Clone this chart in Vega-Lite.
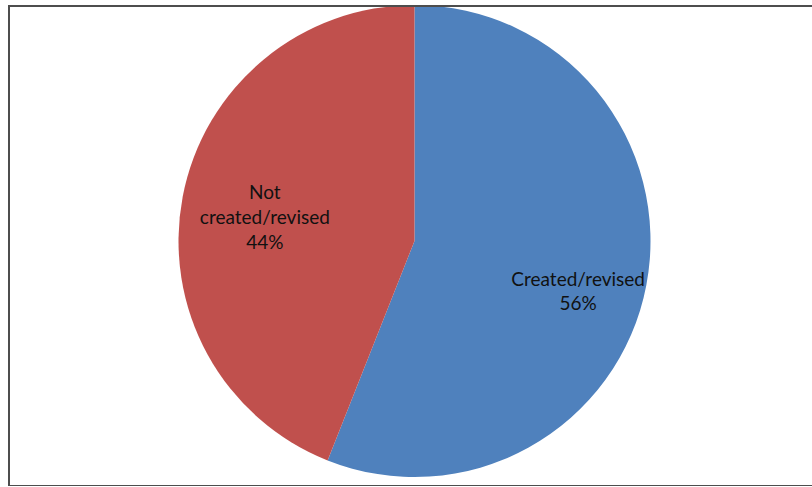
{
  "$schema": "https://vega.github.io/schema/vega-lite/v6.json",
  "autosize": "none",
  "width": 806,
  "height": 480,
  "padding": {"left": 9, "top": 6, "right": 0, "bottom": 0},
  "background": "white",
  "data": {"values": [
    {"category": "Created/revised", "share": 56, "label": "Created/revised\n56%"},
    {"category": "Not created/revised", "share": 44, "label": "Not\ncreated/revised\n44%"}
  ]},
  "resolve": {"scale": {"theta": "independent"}},
  "layer": [
    {
      "mark": {"type": "arc", "outerRadius": 236, "xOffset": 2.5, "yOffset": -5},
      "encoding": {
        "theta": {"field": "share", "type": "quantitative", "stack": true},
        "order": {"field": "category", "sort": "ascending"},
        "color": {"field": "category", "type": "nominal",
          "scale": {"domain": ["Created/revised", "Not created/revised"], "range": ["#4F81BD", "#C0504D"]},
          "legend": null}
      }
    },
    {
      "transform": [{"filter": "datum.category === 'Created/revised'"}],
      "mark": {"type": "text", "radius": 160, "xOffset": 9, "yOffset": 4, "lineBreak": "\n", "font": "Lato", "fontSize": 19, "color": "#111111", "align": "center", "baseline": "middle", "lineHeight": 24},
      "encoding": {
        "theta": {"field": "share", "type": "quantitative", "stack": true, "scale": {"domain": [0, 100]}},
        "text": {"field": "label"}
      }
    },
    {
      "transform": [{"filter": "datum.category === 'Not created/revised'"}],
      "mark": {"type": "text", "radius": 160, "xOffset": 10, "yOffset": -23, "lineBreak": "\n", "font": "Lato", "fontSize": 19, "color": "#111111", "align": "center", "baseline": "middle", "lineHeight": 25},
      "encoding": {
        "theta": {"field": "share", "type": "quantitative", "stack": true, "scale": {"domain": [0, 100], "range": [6.283185307, 0]}},
        "text": {"field": "label"}
      }
    },
    {
      "data": {"values": [{}]},
      "mark": {"type": "rect", "fill": null, "fillOpacity": 0, "stroke": "#4d4d4d", "strokeWidth": 2},
      "encoding": {}
    }
  ]
}
